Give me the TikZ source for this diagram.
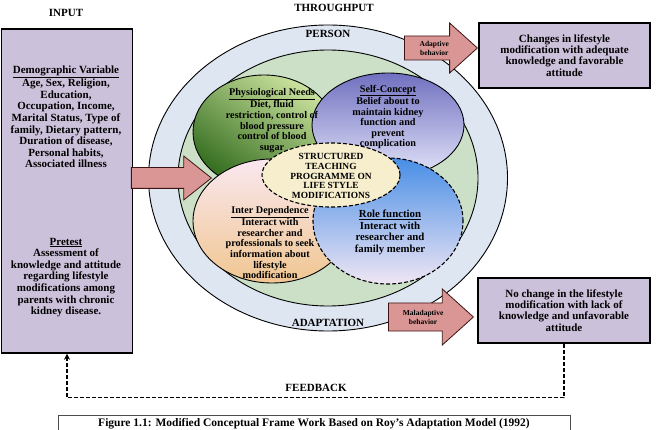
\documentclass[tikz,border=0pt]{standalone}
\usepackage{fontspec}
\setmainfont{Liberation Serif}
\usetikzlibrary{arrows.meta,positioning,shapes.geometric,shapes.arrows}
\definecolor{boxlilac}{RGB}{204,193,218}
\definecolor{arrowpink}{RGB}{217,150,148}
\definecolor{arrowedge}{RGB}{60,20,20}
\definecolor{personblue}{RGB}{222,230,242}
\definecolor{adaptgreen}{RGB}{204,224,200}
\definecolor{physdark}{RGB}{50,108,30}
\definecolor{physlight}{RGB}{205,228,160}
\definecolor{selfdark}{RGB}{112,112,192}
\definecolor{selflight}{RGB}{228,230,250}
\definecolor{interpink}{RGB}{250,232,240}
\definecolor{interorange}{RGB}{244,158,82}
\definecolor{interlight}{RGB}{240,198,145}
\definecolor{roleblue}{RGB}{72,142,230}
\definecolor{rolelight}{RGB}{240,230,244}
\definecolor{teachcream}{RGB}{246,238,205}
\tikzset{
  % all text bold serif
  every node/.append style={font=\bfseries},
  % lilac boxes
  box/.style={draw, line width=1.5pt, fill=boxlilac, align=center, inner sep=0pt},
  % pink block arrows
  blockarrow/.style={single arrow, draw=arrowedge, line width=0.8pt, fill=arrowpink,
    align=center, inner xsep=1pt, anchor=tip,
    font=\bfseries\fontsize{7.5}{9}\selectfont},
  % ellipses
  ring/.style={ellipse, draw, line width=0.9pt, inner sep=0pt},
  dashring/.style={ring, dash pattern=on 4pt off 2pt, line width=1.1pt},
  % texts
  txt/.style={align=center, inner sep=0pt, font=\bfseries\fontsize{10.2}{10.6}\selectfont},
  lbl/.style={font=\bfseries\fontsize{11}{12}\selectfont},
  fb/.style={dash pattern=on 4pt off 2pt, line width=1.3pt, -{Stealth[length=6pt,width=6pt]}},
}
\begin{document}
\begin{tikzpicture}[x=1pt, y=-1pt]
\useasboundingbox (0,0) rectangle (668,430);
\clip (0,0) rectangle (668,430);

% headings
\node[lbl] (inputlbl) at (66,13) {INPUT};
\node[lbl] (thrulbl) at (334,8) {THROUGHPUT};

% input
\node[box, minimum width=131pt, minimum height=324pt] (inputbox) at (67,191) {};
\node[txt, font=\bfseries\fontsize{11}{11.6}\selectfont] (demotext) at (66,117)
  {\underline{Demographic Variable}\\Age, Sex, Religion,\\Education,\\Occupation, Income,\\Marital Status, Type of\\family, Dietary pattern,\\Duration of disease,\\Personal habits,\\Associated illness};
\node[txt, font=\bfseries\fontsize{11}{11.6}\selectfont] (pretext) at (66,277.5)
  {\underline{Pretest}\\Assessment of\\knowledge and attitude\\regarding lifestyle\\modifications among\\parents with chronic\\kidney disease.};

% person / adaptation
\node[ring, fill=personblue, minimum width=359pt, minimum height=306pt] (person) at (328,178) {};
\node[ring, fill=adaptgreen, minimum width=300pt, minimum height=256pt] (adaptarea) at (328,178) {};
\node[lbl] (personlbl) at (328,34) {PERSON};
\node[lbl] (adaptlbl) at (328,323) {ADAPTATION};

% modes
\node[ring, top color=physlight, bottom color=physdark, shading angle=-35,
  minimum width=142pt, minimum height=114pt] (physio) at (264,132) {};
\node[ring, top color=selfdark, bottom color=selflight,
  minimum width=152pt, minimum height=104pt] (selfc) at (388,125) {};
\node[ring, top color=interpink, middle color=interorange, bottom color=interlight,
  minimum width=158pt, minimum height=124pt] (interdep) at (272,221) {};
\node[dashring, top color=roleblue, bottom color=rolelight,
  minimum width=150pt, minimum height=126pt] (rolefn) at (388,221) {};
\node[dashring, fill=teachcream, minimum width=138pt, minimum height=64pt] (teach) at (331,175) {};

\node[txt] (physiotext) at (272,120.5)
  {\underline{Physiological Needs}\\Diet, fluid\\restriction, control of\\blood pressure\\control of blood\\sugar};
\node[txt] (selftext) at (388,117)
  {\underline{Self-Concept}\\Belief about to\\maintain kidney\\function and\\prevent\\complication};
\node[txt] (intertext) at (270,242.5)
  {\underline{Inter Dependence}\\Interact with\\researcher and\\professionals to seek\\information about\\lifestyle\\modification};
\node[txt, font=\bfseries\fontsize{10.8}{11.5}\selectfont] (roletext) at (390,232.5)
  {\underline{Role function}\\Interact with\\researcher and\\family member};
\node[txt, font=\bfseries\fontsize{9.4}{9.6}\selectfont] (teachtext) at (331,176)
  {STRUCTURED\\TEACHING\\PROGRAMME ON\\LIFE STYLE\\MODIFICATIONS};

% outputs
\node[box, minimum width=171pt, minimum height=65pt, font=\bfseries\fontsize{11}{11.3}\selectfont] (changes) at (564.5,55.5)
  {Changes in lifestyle\\modification with adequate\\knowledge and favorable\\attitude};
\node[box, minimum width=172pt, minimum height=65pt, font=\bfseries\fontsize{11}{11.3}\selectfont] (nochange) at (564,310.5)
  {No change in the lifestyle\\modification with lack of\\knowledge and unfavorable\\attitude};

% block arrows
\node[blockarrow, inner ysep=10pt, minimum height=80pt, minimum width=43pt,
  single arrow head extend=11.5pt, single arrow tip angle=77] (inarrow) at (212,178) {};
\node[blockarrow, inner ysep=4pt, minimum height=73pt, minimum width=50pt,
  single arrow head extend=12.5pt, single arrow tip angle=84] (adaptarrow) at (478,48) {Adaptive\\behavior};
\node[blockarrow, inner ysep=6pt, minimum height=85pt, minimum width=56pt,
  single arrow head extend=13.5pt, single arrow tip angle=84] (maladarrow) at (474,317) {Maladaptive\\behavior};

% feedback
\draw[fb] (nochange.south) -- ++(0,54) -| (inputbox.south);
\node[lbl] (fblbl) at (316,388) {FEEDBACK};

% caption
\node[draw=black!70, line width=0.6pt, minimum width=512pt, minimum height=26pt, anchor=north] (capbox) at (314,415) {};
\node[anchor=base, font=\bfseries\fontsize{11.5}{13}\selectfont] (caption) at (314,426.5)
  {Figure 1.1: Modified Conceptual Frame Work Based on Roy’s Adaptation Model (1992)};
\end{tikzpicture}
\end{document}
